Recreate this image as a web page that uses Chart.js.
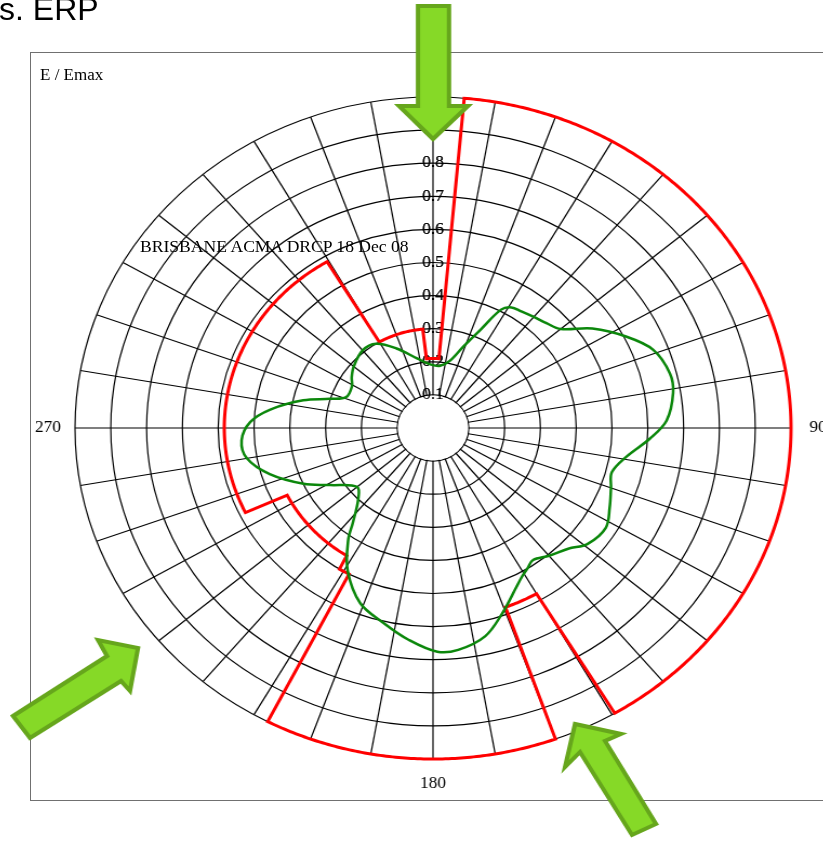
<!DOCTYPE html>
<html>
<head>
<meta charset="utf-8">
<script src="https://cdn.jsdelivr.net/npm/chart.js@4.4.1/dist/chart.umd.min.js"></script>
<style>
  body { margin: 0; width: 823px; height: 842px; overflow: hidden; background: #fff; position: relative; }
  #frame { position: absolute; left: 30px; top: 52px; width: 850px; height: 747px; border: 1px solid #707070; }
  /* the polar plot is an ellipse in the picture, so the canvas is stretched sideways */
  #wrap { position: absolute; left: 32px; top: 0; width: 762px; height: 842px; transform-origin: 401px 0; transform: scaleX(1.0816); }
  .txt { position: absolute; white-space: nowrap; line-height: 1; font-family: 'Liberation Serif', 'Times New Roman', serif; font-size: 17px; color: #000; }
  #title { position: absolute; left: -1px; top: -7px; line-height: 1; font-family: 'Liberation Sans', Arial, sans-serif; font-size: 32px; color: #000; white-space: nowrap; }
</style>
</head>
<body>
<div id="frame"></div>
<div id="wrap"><canvas id="myChart" width="762" height="842"></canvas></div>
<div id="title">s. ERP</div>
<div class="txt" style="left:40px;top:66px">E / Emax</div>
<div class="txt" style="left:140px;top:238px;font-size:17.6px">BRISBANE ACMA DRCP 18 Dec 08</div>
<script>
    // angle categories, half a degree apart
    const angleStep = 0.5;
    const spokeEvery = 20; // a spoke every 10 degrees
    const angleLabels = [];
    for (let a = 0; a < 360; a += angleStep) angleLabels.push(a);

    const tickLabels = ['0.1', '0.2', '0.3', '0.4', '0.5', '0.6', '0.7', '0.8', '0.9', '1'];
    const compassAngles = [0, 90, 180, 270];
    const compassLabels = ['0', '90', '180', '270'];

    // red limit pattern: each level holds from its start angle to the next start
    const redStart = [0, 5, 150, 160, 208, 212, 244, 330, 355];
    const redLevel = [0.21, 1.0, 0.578, 1.0, 0.5, 0.455, 0.583, 0.30, 0.21];

    // green measured pattern
    const greenAngles = [0, 6, 13, 19, 24, 28, 31, 35, 40, 45, 50, 56, 63, 69, 76, 81, 88, 93, 99, 105,
        110, 116, 122, 129, 134, 140, 145, 148, 151, 154, 161, 167, 174, 179, 186, 193, 201, 209, 215, 218,
        224, 230, 239, 245, 253, 260, 266, 272, 277, 283, 287, 291, 299, 304, 310, 320, 328, 337, 348, 355];
    const greenValues = [0.19, 0.189, 0.208, 0.26, 0.324, 0.405, 0.425, 0.43, 0.438, 0.448, 0.465, 0.537, 0.607, 0.659, 0.682, 0.679, 0.653, 0.607, 0.548, 0.517,
        0.529, 0.549, 0.569, 0.556, 0.525, 0.504, 0.487, 0.499, 0.513, 0.533, 0.593, 0.646, 0.674, 0.676, 0.644, 0.606, 0.567, 0.492, 0.413, 0.364,
        0.301, 0.277, 0.335, 0.399, 0.477, 0.528, 0.536, 0.511, 0.458, 0.372, 0.301, 0.26, 0.259, 0.274, 0.289, 0.306, 0.300, 0.261, 0.215, 0.197];

    function redAt(a) {
        let level = redLevel[0];
        redStart.forEach((s, i) => { if (a >= s) level = redLevel[i]; });
        return level;
    }
    const redData = angleLabels.map(redAt);
    const greenData = angleLabels.map(a => {
        const i = greenAngles.indexOf(a);
        return i < 0 ? null : greenValues[i];
    });

    // page x -> canvas x (canvas is stretched by S around canvas x 401 = page x 433)
    const S = 1.0816;
    function px(x) { return 401 + (x - 433) / S; }

    const arrows = [
        [[418, 6], [449, 6], [449, 106], [468, 106], [433, 139], [399, 106], [418, 106]],
        [[13, 716], [107, 656], [98, 640], [138, 648], [130, 691], [121, 681], [30, 738]],
        [[575, 724], [565, 767], [580, 752], [632, 835], [656, 824], [605, 741], [621, 734]]
    ];

    const polarExtras = {
        id: 'polarExtras',
        beforeDatasetsDraw(chart) {
            const r = chart.scales.r;
            const ctx = chart.ctx;
            const hole = r.getDistanceFromCenterForValue(0.1);
            ctx.save();
            ctx.beginPath();
            ctx.arc(r.xCenter, r.yCenter, hole - 0.6, 0, Math.PI * 2);
            ctx.fillStyle = '#fff';
            ctx.fill();
            ctx.restore();
            r.drawLabels();
        },
        afterDraw(chart) {
            const r = chart.scales.r;
            const ctx = chart.ctx;
            ctx.save();
            ctx.font = '16px "Liberation Serif"';
            ctx.fillStyle = '#000';
            ctx.textAlign = 'center';
            ctx.textBaseline = 'middle';
            compassAngles.forEach((a, i) => {
                const p = r.getPointPosition(a / angleStep, r.drawingArea + 25);
                ctx.fillText(compassLabels[i], p.x, p.y);
            });
            ctx.lineWidth = 4;
            ctx.lineJoin = 'miter';
            ctx.fillStyle = '#86d927';
            ctx.strokeStyle = '#66a61c';
            arrows.forEach(pts => {
                ctx.beginPath();
                pts.forEach((p, i) => i ? ctx.lineTo(px(p[0]), p[1]) : ctx.moveTo(px(p[0]), p[1]));
                ctx.closePath();
                ctx.fill();
                ctx.stroke();
            });
            ctx.restore();
        }
    };

    const myChart = new Chart(document.getElementById('myChart'), {
        type: 'radar',
        data: {
            labels: angleLabels,
            datasets: [{
                label: 'Measured',
                data: greenData,
                borderColor: '#0b870b',
                borderWidth: 2.5,
                pointRadius: 0,
                fill: false,
                spanGaps: true,
                tension: 0.35
            }, {
                label: 'Limit',
                data: redData,
                borderColor: '#ff0000',
                borderWidth: 3,
                pointRadius: 0,
                fill: false,
                borderJoinStyle: 'miter'
            }]
        },
        options: {
            responsive: false,
            animation: false,
            events: [],
            layout: { padding: { top: 89, bottom: 75, left: 40, right: 0 } },
            plugins: { legend: { display: false }, tooltip: { enabled: false } },
            scales: {
                r: {
                    min: 0,
                    max: 1,
                    ticks: {
                        stepSize: 0.1,
                        showLabelBackdrop: false,
                        backdropPadding: 0,
                        color: '#000',
                        font: { family: 'Liberation Serif', size: 16 },
                        callback: (v, i) => i === 0 ? '' : tickLabels[i - 1]
                    },
                    grid: { circular: true, color: '#000', lineWidth: 1.2 },
                    angleLines: { color: '#000', lineWidth: c => c.index % spokeEvery === 0 ? 1.2 : 0 },
                    pointLabels: { display: false }
                }
            }
        },
        plugins: [polarExtras]
    });
</script>
</body>
</html>
